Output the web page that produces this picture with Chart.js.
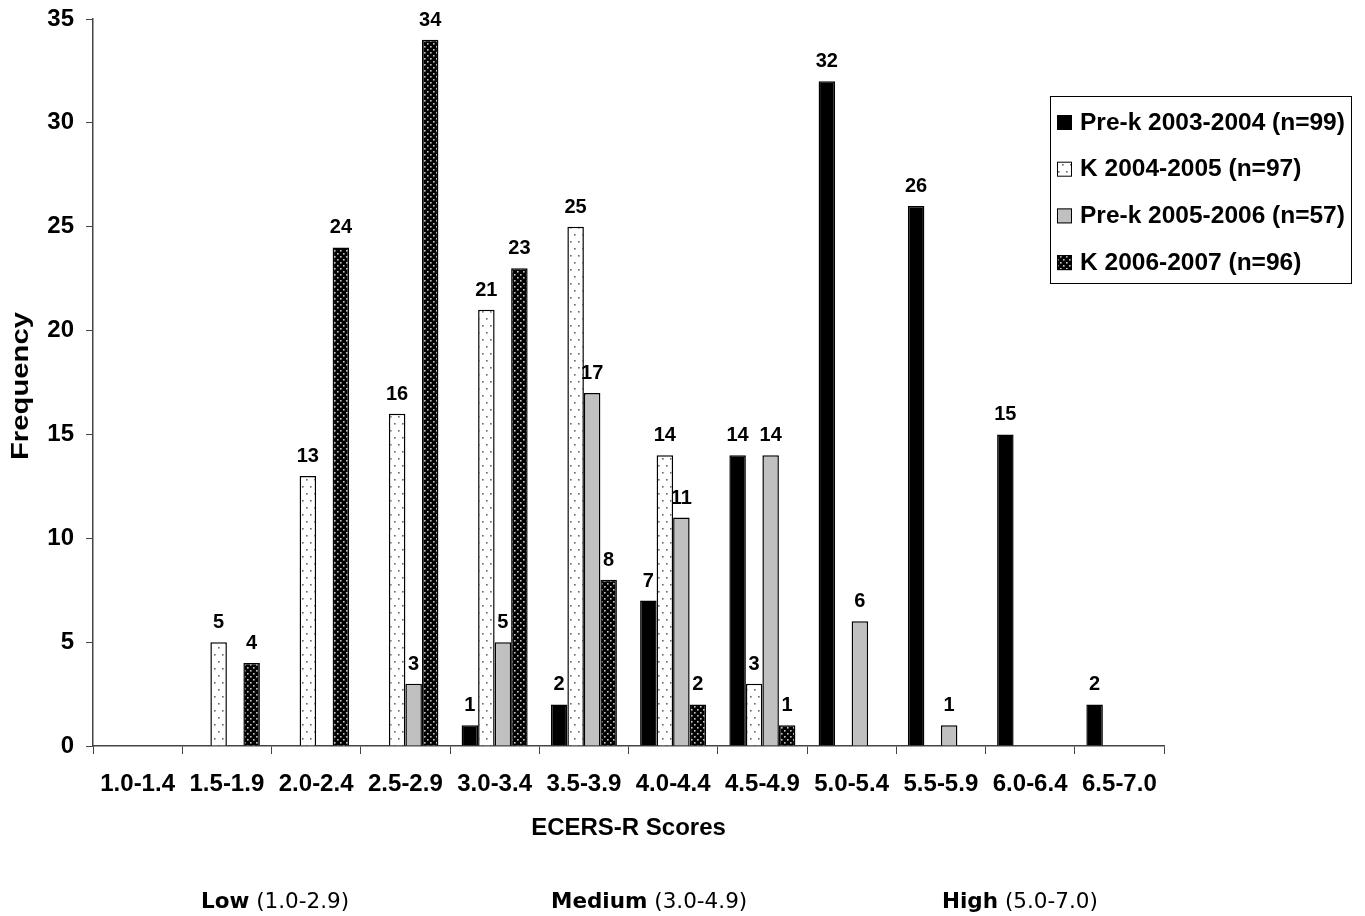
<!DOCTYPE html>
<html>
<head>
<meta charset="utf-8">
<script src="https://cdn.jsdelivr.net/npm/chart.js@4/dist/chart.umd.min.js"></script>
<style>
  body { margin: 0; background: #fff; }
  #wrap { width: 1365px; height: 916px; position: relative; }
</style>
</head>
<body>
<div id="wrap"><canvas id="scoreChart"></canvas></div>
<script>
// Data
const categories = ['1.0-1.4', '1.5-1.9', '2.0-2.4', '2.5-2.9', '3.0-3.4', '3.5-3.9', '4.0-4.4', '4.5-4.9', '5.0-5.4', '5.5-5.9', '6.0-6.4', '6.5-7.0'];
const prek0304 = [0, 0, 0, 0, 1, 2, 7, 14, 32, 26, 15, 2];
const k0405 = [0, 5, 13, 16, 21, 25, 14, 3, 0, 0, 0, 0];
const prek0506 = [0, 0, 0, 3, 5, 17, 11, 14, 6, 1, 0, 0];
const k0607 = [0, 4, 24, 34, 23, 8, 2, 1, 0, 0, 0, 0];
const seriesNames = ['Pre-k 2003-2004 (n=99)', 'K 2004-2005 (n=97)', 'Pre-k 2005-2006 (n=57)', 'K 2006-2007 (n=96)'];
const bands = [
    { bold: 'Low', rest: ' (1.0-2.9)' },
    { bold: 'Medium', rest: ' (3.0-4.9)' },
    { bold: 'High', rest: ' (5.0-7.0)' }
];

const ARIAL = "'Liberation Sans', Arial, sans-serif";
const VERDANA = "'DejaVu Sans', Verdana, sans-serif";

// Fill patterns for the two textured series
function makePattern(w, h, bg, dot, dots, size) {
    const c = document.createElement('canvas');
    c.width = w;
    c.height = h;
    const g = c.getContext('2d');
    g.fillStyle = bg;
    g.fillRect(0, 0, w, h);
    g.fillStyle = dot;
    dots.forEach(p => g.fillRect(p[0], p[1], size, size));
    return g.createPattern(c, 'repeat');
}

const ctx = document.getElementById('scoreChart').getContext('2d');
const sparseDots = makePattern(8, 14, '#ffffff', '#666666', [[2, 3], [6, 10]], 1.6);
const denseDots = makePattern(6, 6, '#000000', '#c8c8c8', [[1, 1], [4, 4]], 1.6);
const fills = ['#000000', sparseDots, '#c0c0c0', denseDots];

// Value labels above each non-zero bar
const valueLabels = {
    id: 'valueLabels',
    afterDatasetsDraw(chart) {
        const c = chart.ctx;
        c.save();
        c.font = 'bold 20px ' + ARIAL;
        c.fillStyle = '#000';
        c.textAlign = 'center';
        c.textBaseline = 'alphabetic';
        chart.data.datasets.forEach((ds, i) => {
            chart.getDatasetMeta(i).data.forEach((bar, j) => {
                if (ds.data[j] > 0) c.fillText(ds.data[j], bar.x, bar.y - 14);
            });
        });
        c.restore();
    }
};

// Boxed legend, stretched y title and the Low / Medium / High notes
const extras = {
    id: 'extras',
    afterDraw(chart) {
        const c = chart.ctx;
        c.save();
        c.strokeStyle = '#000';
        c.lineWidth = 1;
        c.fillStyle = '#fff';
        c.fillRect(1050.5, 96.5, 301, 187);
        c.strokeRect(1050.5, 96.5, 301, 187);
        c.font = 'bold 24.5px ' + ARIAL;
        c.textBaseline = 'middle';
        c.textAlign = 'left';
        seriesNames.forEach((name, i) => {
            const y = 122 + i * 46.7;
            c.fillStyle = fills[i];
            c.fillRect(1057, y - 7, 15, 15);
            c.strokeStyle = '#000';
            c.strokeRect(1057.5, y - 6.5, 14, 14);
            c.fillStyle = '#000';
            c.fillText(name, 1080, y + 1);
        });

        // y axis title, drawn a little stretched like the original
        c.save();
        c.translate(28, 386);
        c.rotate(-Math.PI / 2);
        c.scale(1.22, 1);
        c.font = 'bold 24px ' + ARIAL;
        c.textAlign = 'center';
        c.textBaseline = 'alphabetic';
        c.fillText('Frequency', 0, 0);
        c.restore();

        const starts = [201, 551, 942];
        c.textAlign = 'left';
        c.textBaseline = 'alphabetic';
        bands.forEach((b, i) => {
            c.font = 'bold 21.5px ' + VERDANA;
            const w1 = c.measureText(b.bold).width;
            c.fillText(b.bold, starts[i], 908);
            c.font = '21.5px ' + VERDANA;
            c.fillText(b.rest, starts[i] + w1, 908);
        });
        c.restore();
    }
};

new Chart(ctx, {
    type: 'bar',
    data: {
        labels: categories,
        datasets: [prek0304, k0405, prek0506, k0607].map((d, i) => ({
            label: seriesNames[i],
            data: d,
            backgroundColor: fills[i],
            borderColor: '#000',
            borderWidth: 1.5,
            categoryPercentage: 0.74,
            barPercentage: 1.0
        }))
    },
    options: {
        responsive: true,
        maintainAspectRatio: false,
        animation: false,
        layout: { padding: { top: 19, right: 201, bottom: 69, left: 40 } },
        plugins: {
            legend: { display: false },
            tooltip: { enabled: false }
        },
        scales: {
            x: {
                afterFit(scale) {
                    scale.height = 101;
                    scale.paddingLeft = 0;
                    scale.paddingRight = 0;
                },
                grid: {
                    offset: true,
                    drawOnChartArea: false,
                    drawTicks: true,
                    tickLength: 8,
                    color: '#444'
                },
                border: { color: '#444', width: 1.5 },
                ticks: {
                    color: '#000',
                    font: { family: ARIAL, size: 24, weight: 'bold' },
                    maxRotation: 0,
                    autoSkip: false,
                    padding: 16
                },
                title: {
                    display: true,
                    text: 'ECERS-R Scores',
                    color: '#000',
                    font: { family: ARIAL, size: 24, weight: 'bold' },
                    padding: { top: 4, bottom: 4 }
                }
            },
            y: {
                min: 0,
                max: 35,
                afterFit(scale) {
                    scale.width = 53;
                    scale.paddingTop = 0;
                    scale.paddingBottom = 0;
                },
                grid: {
                    drawOnChartArea: false,
                    drawTicks: true,
                    tickLength: 7,
                    color: '#444'
                },
                border: { color: '#444', width: 1.5 },
                ticks: {
                    stepSize: 5,
                    color: '#000',
                    font: { family: ARIAL, size: 24, weight: 'bold' },
                    padding: 12
                }
            }
        }
    },
    plugins: [valueLabels, extras]
});
</script>
</body>
</html>
